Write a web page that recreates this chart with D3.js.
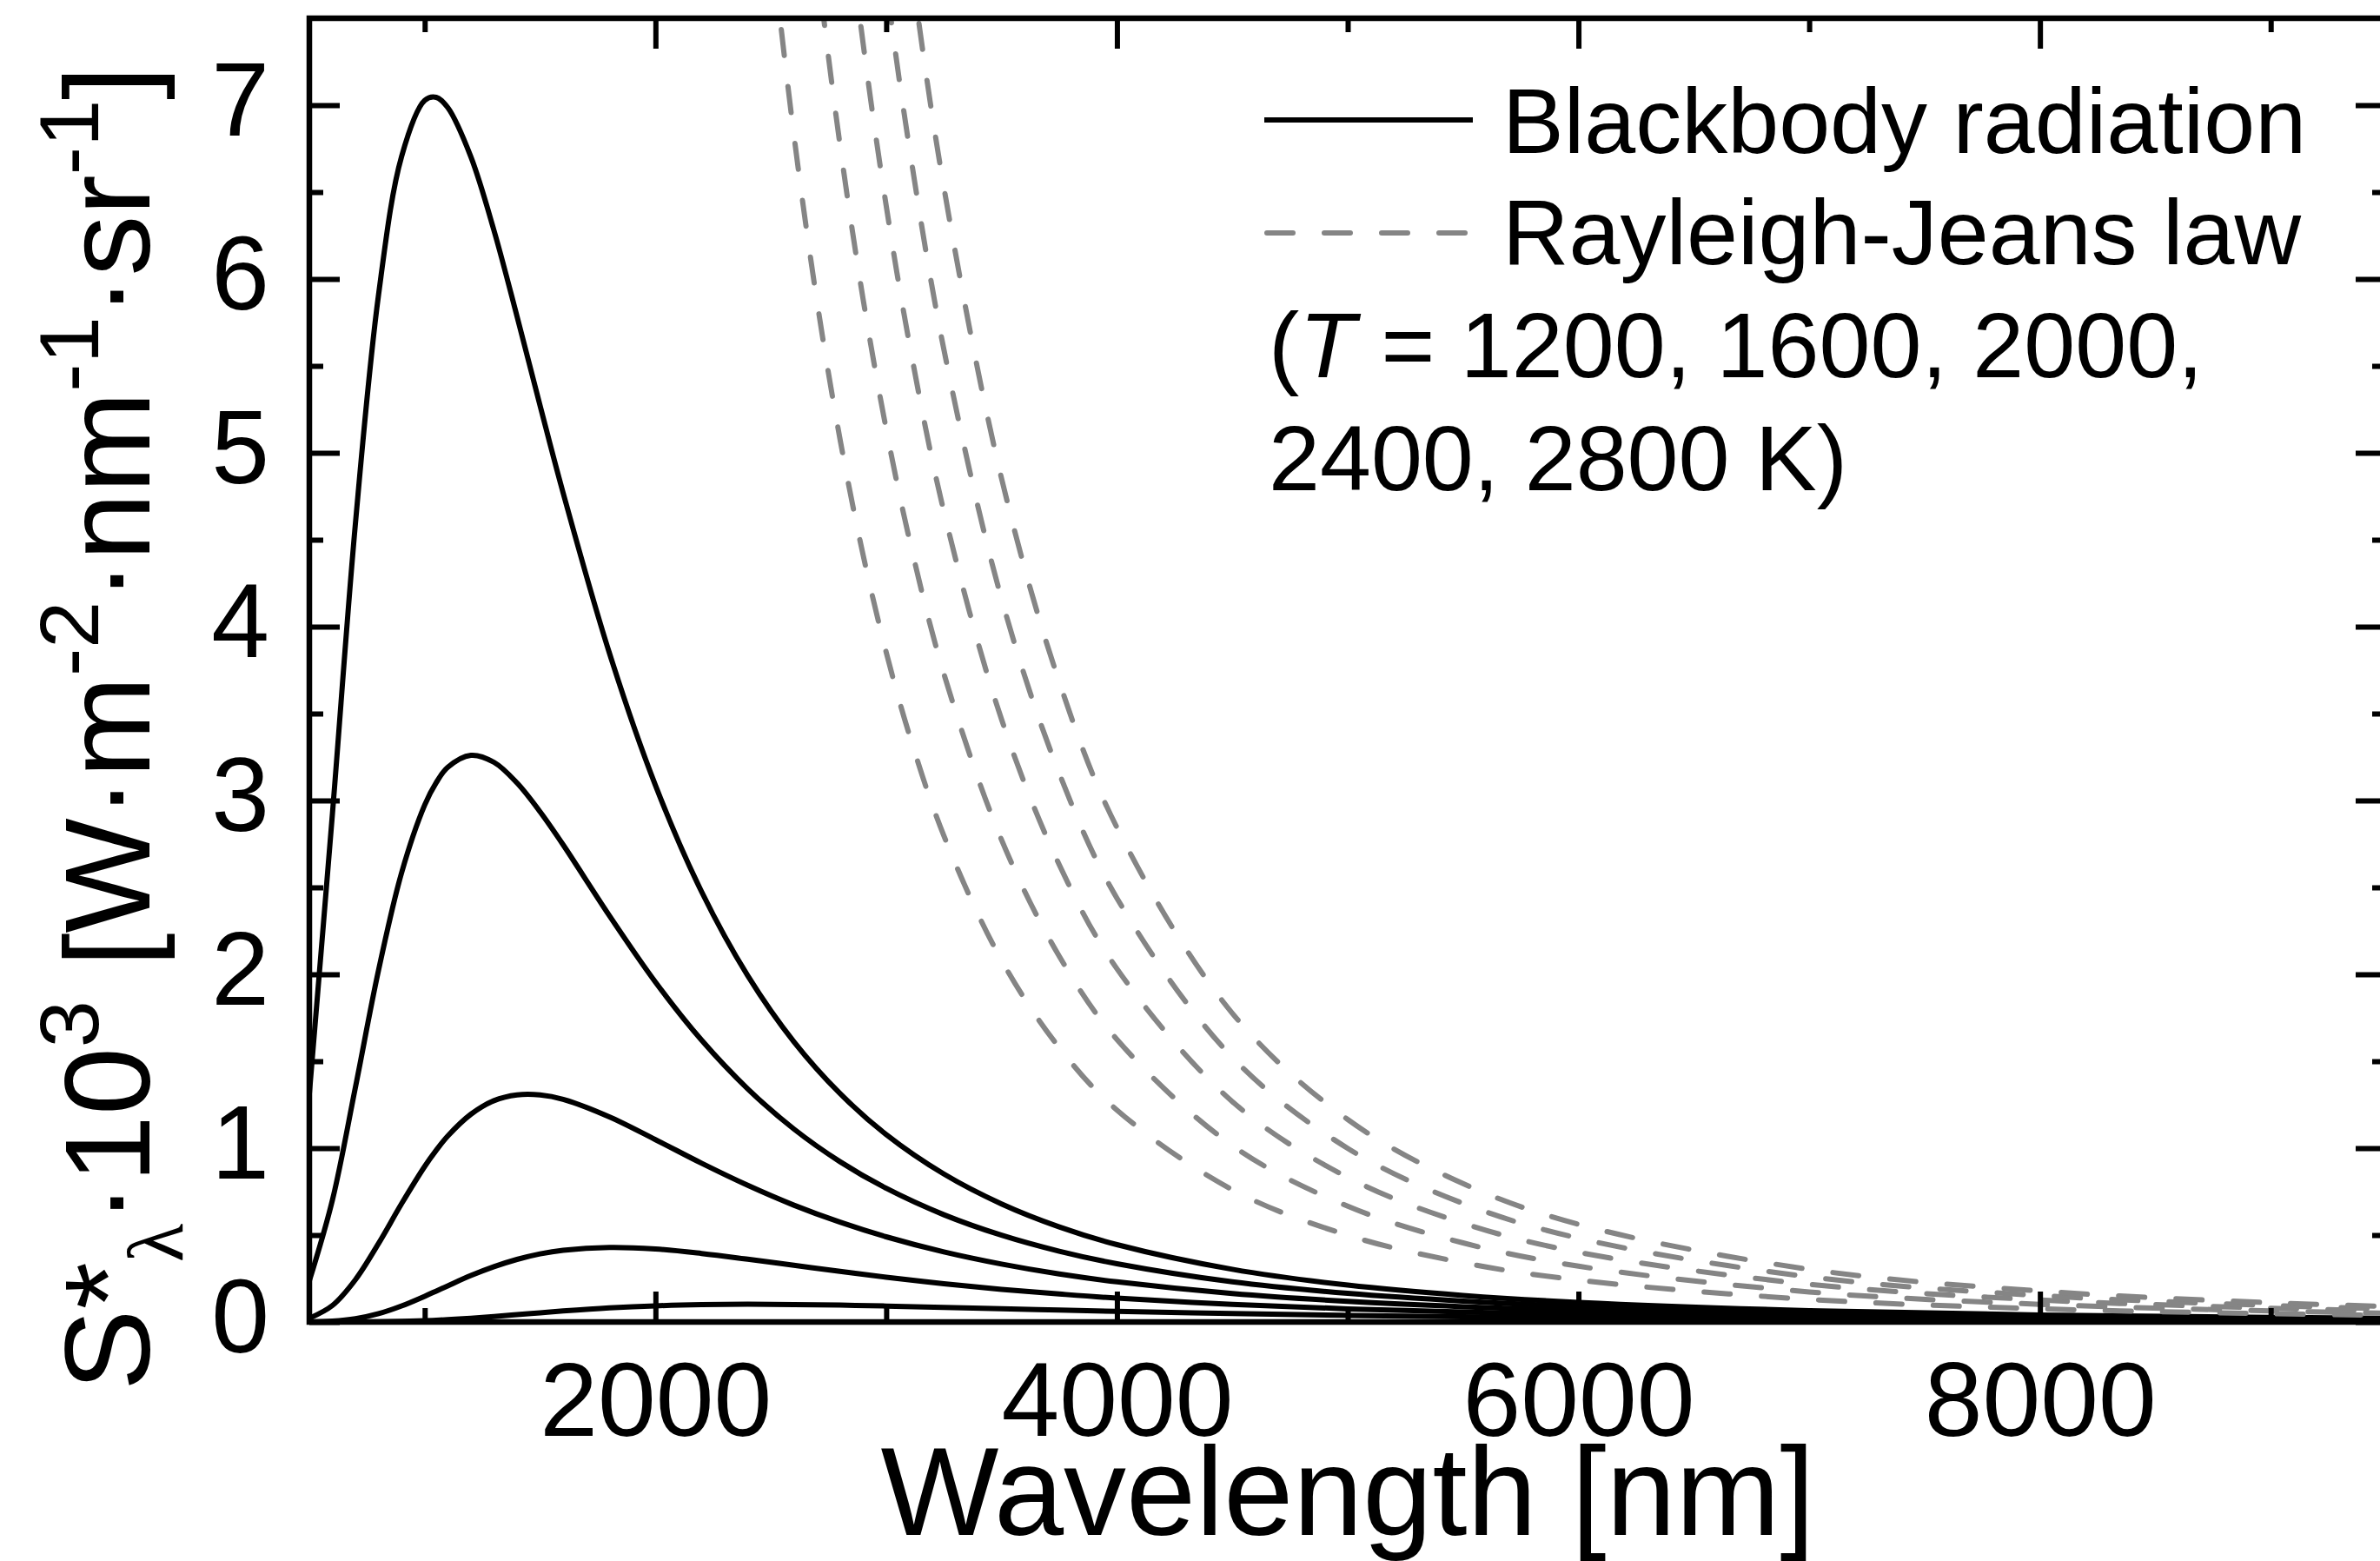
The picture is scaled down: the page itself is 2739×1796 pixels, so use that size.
<!DOCTYPE html>
<html>
<head>
<meta charset="utf-8">
<script src="https://cdn.jsdelivr.net/npm/d3@7"></script>
<style>
    body { margin: 0; background: #fff; }
    svg text { font-family: "Liberation Sans", Arial, sans-serif; fill: #000; }
</style>
</head>
<body>
<div id="chart"></div>
<script>
// Wavelengths [nm] used for the blackbody curves
const wavelengths = [500, 600, 700, 800, 900, 1000, 1050, 1100, 1200, 1300, 1400, 1500, 1600, 1800, 2000,
    2200, 2400, 2600, 2800, 3000, 3250, 3500, 3750, 4000, 4500, 5000, 5500, 6000, 7000, 8000, 9000, 9500];

// Blackbody radiation, S*·10^3, one list per temperature
const bb1200 = [0, 0.00003, 0.00026, 0.0011, 0.0033, 0.0074, 0.0103, 0.0137, 0.0219, 0.0317, 0.0423, 0.0530, 0.0633, 0.0808, 0.0930,
    0.0997, 0.1019, 0.1006, 0.0969, 0.0918, 0.0842, 0.0762, 0.0684, 0.0611, 0.0483, 0.0381, 0.0302, 0.0240, 0.0156, 0.0105, 0.0072, 0.0061];
const bb1600 = [0.0006, 0.0047, 0.0187, 0.0477, 0.0923, 0.148, 0.178, 0.208, 0.267, 0.318, 0.360, 0.392, 0.413, 0.429, 0.420,
    0.394, 0.361, 0.326, 0.291, 0.258, 0.220, 0.188, 0.161, 0.137, 0.101, 0.0756, 0.0573, 0.0441, 0.0271, 0.0175, 0.0118, 0.0098];
const bb2000 = [0.0215, 0.0951, 0.244, 0.452, 0.681, 0.895, 0.988, 1.070, 1.195, 1.273, 1.306, 1.306, 1.281, 1.180, 1.049,
    0.913, 0.786, 0.672, 0.574, 0.490, 0.403, 0.333, 0.276, 0.231, 0.1635, 0.1185, 0.0877, 0.0661, 0.0395, 0.0249, 0.0165, 0.0136];
const bb2400 = [0.2365, 0.7012, 1.352, 2.024, 2.585, 2.974, 3.103, 3.191, 3.260, 3.220, 3.101, 2.935, 2.745, 2.338, 1.955,
    1.621, 1.341, 1.110, 0.922, 0.769, 0.617, 0.499, 0.407, 0.335, 0.231, 0.1645, 0.120, 0.0893, 0.0523, 0.0326, 0.0213, 0.0175];
const bb2800 = [1.312, 2.923, 4.598, 5.910, 6.706, 7.027, 7.045, 6.986, 6.703, 6.280, 5.785, 5.271, 4.769, 3.850, 3.087,
    2.475, 1.992, 1.612, 1.314, 1.078, 0.851, 0.679, 0.547, 0.445, 0.303, 0.212, 0.153, 0.113, 0.0654, 0.0403, 0.0262, 0.0215];

// Wavelengths [nm] for the Rayleigh-Jeans curves (they leave the top of the plot)
const rjWavelengths = [2400, 2500, 2600, 2700, 2800, 2900, 3000, 3100, 3250, 3500, 3750, 4000, 4500, 5000, 5500, 6000, 7000, 8000, 9000, 9500];

const rj1200 = [9.406, 7.989, 6.829, 5.872, 5.077, 4.412, 3.853, 3.379, 2.797, 2.080, 1.578, 1.219, 0.761, 0.499, 0.341, 0.241, 0.130, 0.0762, 0.0476, 0.0383];
const rj1600 = [12.54, 10.652, 9.105, 7.829, 6.769, 5.883, 5.137, 4.505, 3.729, 2.773, 2.104, 1.625, 1.015, 0.666, 0.455, 0.321, 0.173, 0.1016, 0.0634, 0.0511];
const rj2000 = [15.676, 13.315, 11.381, 9.787, 8.462, 7.354, 6.421, 5.632, 4.662, 3.466, 2.630, 2.032, 1.268, 0.832, 0.568, 0.401, 0.217, 0.127, 0.0793, 0.0639];
const rj2400 = [18.81, 15.977, 13.658, 11.744, 10.154, 8.824, 7.705, 6.758, 5.594, 4.159, 3.156, 2.438, 1.522, 0.999, 0.682, 0.482, 0.260, 0.152, 0.0951, 0.0766];
const rj2800 = [21.95, 18.64, 15.934, 13.701, 11.846, 10.295, 8.989, 7.884, 6.527, 4.852, 3.682, 2.844, 1.776, 1.165, 0.796, 0.562, 0.303, 0.178, 0.111, 0.0894];

// Axis ticks
const xMajorTicks = [2000, 4000, 6000, 8000];
const xMinorTicks = [1000, 3000, 5000, 7000, 9000];
const yMajorTicks = [0, 1, 2, 3, 4, 5, 6, 7];
const yMinorTicks = [0.5, 1.5, 2.5, 3.5, 4.5, 5.5, 6.5];

const legendLabels = ['Blackbody radiation', 'Rayleigh-Jeans law'];

function init() {
    const width = 2739;
    const height = 1796;
    const plot = {left: 356, right: 2746, top: 21, bottom: 1521};

    const svg = d3.select('#chart')
        .append('svg')
        .attr('width', width)
        .attr('height', height);

    const x = d3.scaleLinear().domain([500, 9500]).range([plot.left, plot.right]);
    const y = d3.scaleLinear().domain([0, 7.5]).range([plot.bottom, plot.top]);

    svg.append('defs').append('clipPath')
        .attr('id', 'plot-clip')
        .append('rect')
        .attr('x', plot.left)
        .attr('y', plot.top)
        .attr('width', plot.right - plot.left)
        .attr('height', plot.bottom - plot.top);

    drawCurves(svg, x, y);
    drawAxes(svg, x, y, plot);
    drawLegend(svg);
}

function drawCurves(svg, x, y) {
    const line = d3.line()
        .x(d => x(d[0]))
        .y(d => y(d[1]))
        .curve(d3.curveCatmullRom.alpha(0.5));

    const g = svg.append('g').attr('clip-path', 'url(#plot-clip)');

    // Blackbody curves (solid black)
    [bb1200, bb1600, bb2000, bb2400, bb2800].forEach(series => {
        g.append('path')
            .datum(wavelengths.map((w, i) => [w, series[i]]))
            .attr('d', line)
            .attr('fill', 'none')
            .attr('stroke', '#000')
            .attr('stroke-width', 6)
            .attr('stroke-linejoin', 'round');
    });

    // Rayleigh-Jeans curves (dashed grey)
    [rj1200, rj1600, rj2000, rj2400, rj2800].forEach(series => {
        g.append('path')
            .datum(rjWavelengths.map((w, i) => [w, series[i]]))
            .attr('d', line)
            .attr('fill', 'none')
            .attr('stroke', '#858585')
            .attr('stroke-width', 6)
            .attr('stroke-linecap', 'round')
            .attr('stroke-dasharray', '30,36');
    });
}

function drawAxes(svg, x, y, plot) {
    const major = 35;
    const minor = 16;

    const styleTicks = sel => {
        sel.select('.domain').remove();
        sel.selectAll('line').attr('stroke', '#000').attr('stroke-width', 6);
        sel.selectAll('text').style('font-size', '120px').attr('fill', '#000');
    };

    // Bottom
    svg.append('g')
        .attr('transform', `translate(0,${plot.bottom})`)
        .call(d3.axisBottom(x).tickValues(xMajorTicks).tickSize(-major).tickPadding(46).tickFormat(d3.format('d')))
        .call(styleTicks);
    svg.append('g')
        .attr('transform', `translate(0,${plot.bottom})`)
        .call(d3.axisBottom(x).tickValues(xMinorTicks).tickSize(-minor).tickFormat(''))
        .call(styleTicks);

    // Top
    svg.append('g')
        .attr('transform', `translate(0,${plot.top})`)
        .call(d3.axisTop(x).tickValues(xMajorTicks).tickSize(-major).tickFormat(''))
        .call(styleTicks);
    svg.append('g')
        .attr('transform', `translate(0,${plot.top})`)
        .call(d3.axisTop(x).tickValues(xMinorTicks).tickSize(-minor).tickFormat(''))
        .call(styleTicks);

    // Left
    svg.append('g')
        .attr('transform', `translate(${plot.left},0)`)
        .call(d3.axisLeft(y).tickValues(yMajorTicks).tickSize(-major).tickPadding(46).tickFormat(d3.format('d')))
        .call(styleTicks)
        .selectAll('text').attr('dy', '0.29em');
    svg.append('g')
        .attr('transform', `translate(${plot.left},0)`)
        .call(d3.axisLeft(y).tickValues(yMinorTicks).tickSize(-minor).tickFormat(''))
        .call(styleTicks);

    // Right
    svg.append('g')
        .attr('transform', `translate(${plot.right},0)`)
        .call(d3.axisRight(y).tickValues(yMajorTicks).tickSize(-major).tickFormat(''))
        .call(styleTicks);
    svg.append('g')
        .attr('transform', `translate(${plot.right},0)`)
        .call(d3.axisRight(y).tickValues(yMinorTicks).tickSize(-minor).tickFormat(''))
        .call(styleTicks);

    // Frame
    svg.append('rect')
        .attr('x', plot.left)
        .attr('y', plot.top)
        .attr('width', plot.right - plot.left)
        .attr('height', plot.bottom - plot.top)
        .attr('fill', 'none')
        .attr('stroke', '#000')
        .attr('stroke-width', 6.5);

    // X title
    svg.append('text')
        .attr('x', (plot.left + plot.right) / 2)
        .attr('y', 1766)
        .attr('text-anchor', 'middle')
        .style('font-size', '144px')
        .text('Wavelength [nm]');

    // Y title with sub/superscripts
    const yt = svg.append('text')
        .attr('transform', 'translate(172,1600) rotate(-90)')
        .style('font-size', '140px');
    const sup = 59;
    const sub = 38;
    yt.append('tspan').text('S*');
    yt.append('tspan').attr('dy', sub)
        .style('font-family', '"Liberation Serif", "Times New Roman", serif')
        .style('font-size', '92px').text('λ');
    yt.append('tspan').attr('dy', -sub).text('·10');
    yt.append('tspan').attr('dy', -sup).style('font-size', '97px').text('3');
    yt.append('tspan').attr('dy', sup).text(' [W·m');
    yt.append('tspan').attr('dy', -sup).style('font-size', '97px').text('-2');
    yt.append('tspan').attr('dy', sup).text('·nm');
    yt.append('tspan').attr('dy', -sup).style('font-size', '97px').text('-1');
    yt.append('tspan').attr('dy', sup).text('·sr');
    yt.append('tspan').attr('dy', -sup).style('font-size', '97px').text('-1');
    yt.append('tspan').attr('dy', sup).text(']');
}

function drawLegend(svg) {
    const g = svg.append('g').attr('class', 'legend');

    g.append('line')
        .attr('x1', 1455).attr('x2', 1695)
        .attr('y1', 138).attr('y2', 138)
        .attr('stroke', '#000')
        .attr('stroke-width', 6);

    g.append('line')
        .attr('x1', 1458).attr('x2', 1692)
        .attr('y1', 268).attr('y2', 268)
        .attr('stroke', '#858585')
        .attr('stroke-width', 6)
        .attr('stroke-linecap', 'round')
        .attr('stroke-dasharray', '30,36');

    g.selectAll('text.entry')
        .data(legendLabels)
        .enter()
        .append('text')
        .attr('class', 'entry')
        .attr('x', 1729)
        .attr('y', (d, i) => 176 + i * 128)
        .style('font-size', '106px')
        .text(d => d);

    const note = g.append('text')
        .attr('x', 1460)
        .attr('y', 434)
        .style('font-size', '106px');
    note.append('tspan').text('(');
    note.append('tspan').style('font-style', 'italic').text('T');
    note.append('tspan').text(' = 1200, 1600, 2000,');

    g.append('text')
        .attr('x', 1460)
        .attr('y', 564)
        .style('font-size', '106px')
        .text('2400, 2800 K)');
}

document.addEventListener('DOMContentLoaded', init);
</script>
</body>
</html>
